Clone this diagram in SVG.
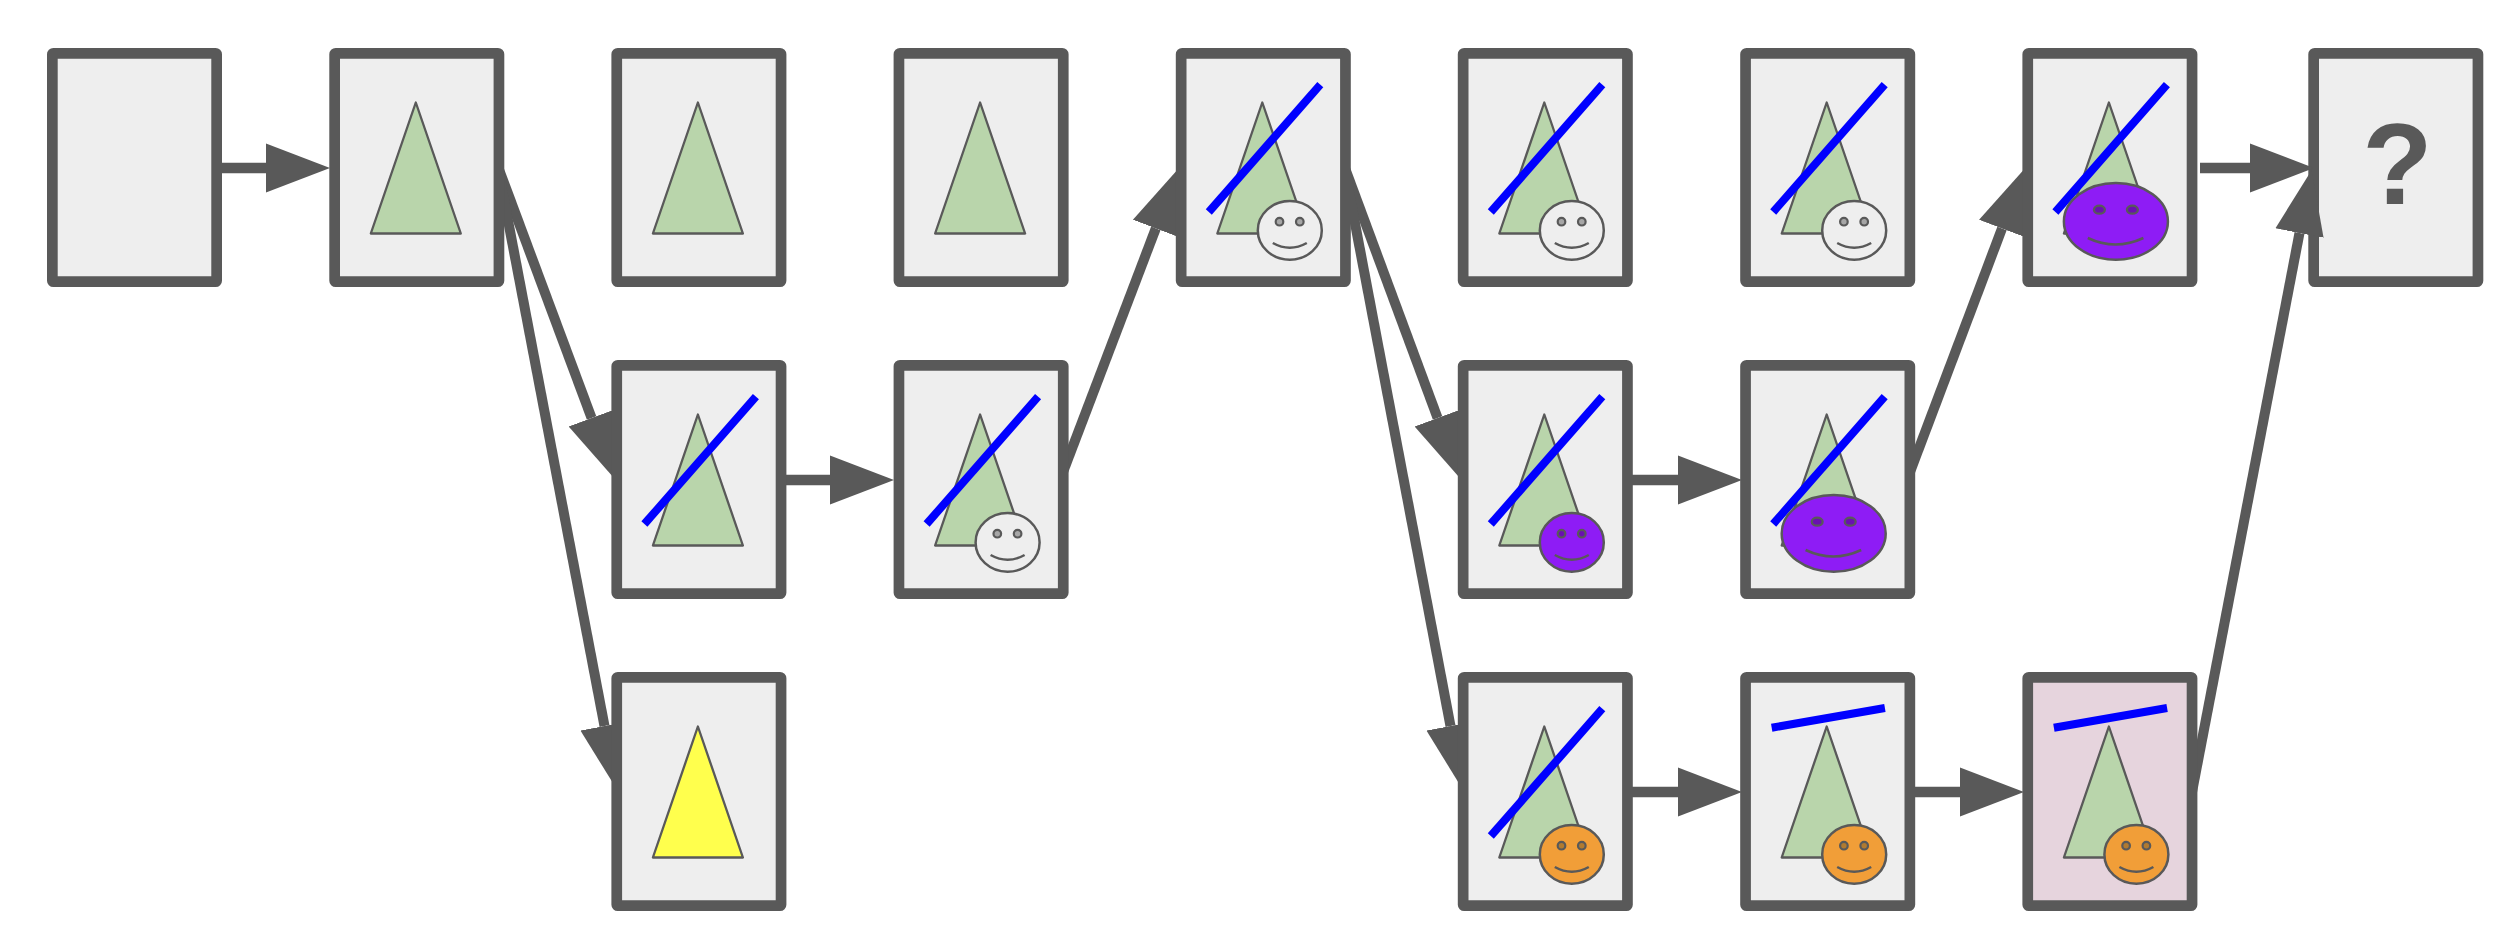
<svg xmlns="http://www.w3.org/2000/svg" width="2500" height="926" viewBox="0 0 2500 926">
<style>
.box{fill:#eeeeee;stroke:#595959;stroke-width:10.7}
.pink{fill:#e6d4dd}
.tri{fill:#b9d5ab;stroke:#595959;stroke-width:2.3;stroke-linejoin:round}
.yel{fill:#ffff4d}
.blue{stroke:#0000ff;stroke-width:8;fill:none}
.face{stroke:#595959;stroke-width:2.5}
.w{fill:#eeeeee}.o{fill:#f19e38}.p{fill:#8e1cf5}
.ln{fill:none;stroke:#595959;stroke-width:2.5}
.eye{stroke:#595959;stroke-width:2.2;fill:#a6a6a6}
.peye{stroke:#595959;stroke-width:2.2;fill:#6a10b0}
.oeye{stroke:#595959;stroke-width:2.2;fill:#b07a30}
.c{stroke:#595959;stroke-width:10;fill:none;marker-end:url(#arr)}
.h{stroke-width:10.7}
.q{font-family:"Liberation Sans",Arial,sans-serif;font-weight:700;font-size:115px;fill:#595959;text-anchor:middle}
</style>
<defs>
<marker id="arr" markerUnits="userSpaceOnUse" markerWidth="66" markerHeight="50" refX="0" refY="25" orient="auto"><path d="M0,0.5 L64,25 L0,49.5z" fill="#595959"/></marker>
<rect id="r" x="5.350" y="5.350" width="164.300" height="228.300" rx="1"/>
<path id="t" d="M86.500,54.500 L131.500,185.500 L41.500,185.500z"/>
<path id="b1" d="M33,164 L144.500,36.700"/>
<path id="b2" d="M31.500,55.700 L144.700,36"/>
<ellipse id="f" cx="114" cy="182.400" rx="32" ry="29.300"/>
<path id="m" d="M97,195 Q114,204.500 131,195" class="ln"/>
<path id="M2" d="M65.400,190 Q93,203 121,190" class="ln"/>
</defs>
<g id="node9" transform="translate(2308.300,48)"><use href="#r" class="box"/><text class="q" x="89" y="156">?</text></g>
<g id="connectors">
<path class="c h" d="M221,168H266"/>
<path class="c h" d="M2200,168H2250"/>
<path class="c h" d="M785,480H830"/>
<path class="c h" d="M1630,480H1678"/>
<path class="c h" d="M1630,792H1678"/>
<path class="c h" d="M1912,792H1960"/>
<path class="c" d="M499,169.500L591.600,418"/>
<path class="c" d="M498,168L604.500,726"/>
<path class="c" d="M1060,480L1155.800,228.400"/>
<path class="c" d="M1345.500,169.500L1437.600,418"/>
<path class="c" d="M1344.500,168L1450.500,726"/>
<path class="c" d="M1907,480L2002,228.500"/>
<path class="c" d="M2192,792L2299.500,233"/>
</g>
<g id="node1" transform="translate(47,48)"><use href="#r" class="box"/></g>
<g id="node2" transform="translate(329.300,48)"><use href="#r" class="box"/><use href="#t" class="tri"/></g>
<g id="node3" transform="translate(611.400,48)"><use href="#r" class="box"/><use href="#t" class="tri"/></g>
<g id="node4" transform="translate(893.600,48)"><use href="#r" class="box"/><use href="#t" class="tri"/></g>
<g id="node5" transform="translate(1175.800,48)"><use href="#r" class="box"/><use href="#t" class="tri"/><use href="#b1" class="blue"/><use href="#f" class="face w"/><circle class="eye" cx="103.700" cy="173.700" r="3.800"/><circle class="eye" cx="124" cy="173.700" r="3.800"/><use href="#m"/></g>
<g id="node6" transform="translate(1457.800,48)"><use href="#r" class="box"/><use href="#t" class="tri"/><use href="#b1" class="blue"/><use href="#f" class="face w"/><circle class="eye" cx="103.700" cy="173.700" r="3.800"/><circle class="eye" cx="124" cy="173.700" r="3.800"/><use href="#m"/></g>
<g id="node7" transform="translate(1740.200,48)"><use href="#r" class="box"/><use href="#t" class="tri"/><use href="#b1" class="blue"/><use href="#f" class="face w"/><circle class="eye" cx="103.700" cy="173.700" r="3.800"/><circle class="eye" cx="124" cy="173.700" r="3.800"/><use href="#m"/></g>
<g id="node8" transform="translate(2022.400,48)"><use href="#r" class="box"/><use href="#t" class="tri"/><use href="#b1" class="blue"/><ellipse class="face p" cx="93.500" cy="173.400" rx="52" ry="38.300"/><ellipse class="peye" cx="77" cy="161.700" rx="5.500" ry="4"/><ellipse class="peye" cx="110" cy="161.700" rx="5.500" ry="4"/><use href="#M2"/></g>
<g id="node10" transform="translate(611.400,360)"><use href="#r" class="box"/><use href="#t" class="tri"/><use href="#b1" class="blue"/></g>
<g id="node11" transform="translate(893.600,360)"><use href="#r" class="box"/><use href="#t" class="tri"/><use href="#b1" class="blue"/><use href="#f" class="face w"/><circle class="eye" cx="103.700" cy="173.700" r="3.800"/><circle class="eye" cx="124" cy="173.700" r="3.800"/><use href="#m"/></g>
<g id="node12" transform="translate(1457.800,360)"><use href="#r" class="box"/><use href="#t" class="tri"/><use href="#b1" class="blue"/><use href="#f" class="face p"/><circle class="peye" cx="103.700" cy="173.700" r="3.800"/><circle class="peye" cx="124" cy="173.700" r="3.800"/><use href="#m"/></g>
<g id="node13" transform="translate(1740.200,360)"><use href="#r" class="box"/><use href="#t" class="tri"/><use href="#b1" class="blue"/><ellipse class="face p" cx="93.500" cy="173.400" rx="52" ry="38.300"/><ellipse class="peye" cx="77" cy="161.700" rx="5.500" ry="4"/><ellipse class="peye" cx="110" cy="161.700" rx="5.500" ry="4"/><use href="#M2"/></g>
<g id="node14" transform="translate(611.400,672)"><use href="#r" class="box"/><use href="#t" class="tri yel"/></g>
<g id="node15" transform="translate(1457.800,672)"><use href="#r" class="box"/><use href="#t" class="tri"/><use href="#b1" class="blue"/><use href="#f" class="face o"/><circle class="oeye" cx="103.700" cy="173.700" r="3.800"/><circle class="oeye" cx="124" cy="173.700" r="3.800"/><use href="#m"/></g>
<g id="node16" transform="translate(1740.200,672)"><use href="#r" class="box"/><use href="#t" class="tri"/><use href="#b2" class="blue"/><use href="#f" class="face o"/><circle class="oeye" cx="103.700" cy="173.700" r="3.800"/><circle class="oeye" cx="124" cy="173.700" r="3.800"/><use href="#m"/></g>
<g id="node17" transform="translate(2022.400,672)"><use href="#r" class="box pink"/><use href="#t" class="tri"/><use href="#b2" class="blue"/><use href="#f" class="face o"/><circle class="oeye" cx="103.700" cy="173.700" r="3.800"/><circle class="oeye" cx="124" cy="173.700" r="3.800"/><use href="#m"/></g>
</svg>
